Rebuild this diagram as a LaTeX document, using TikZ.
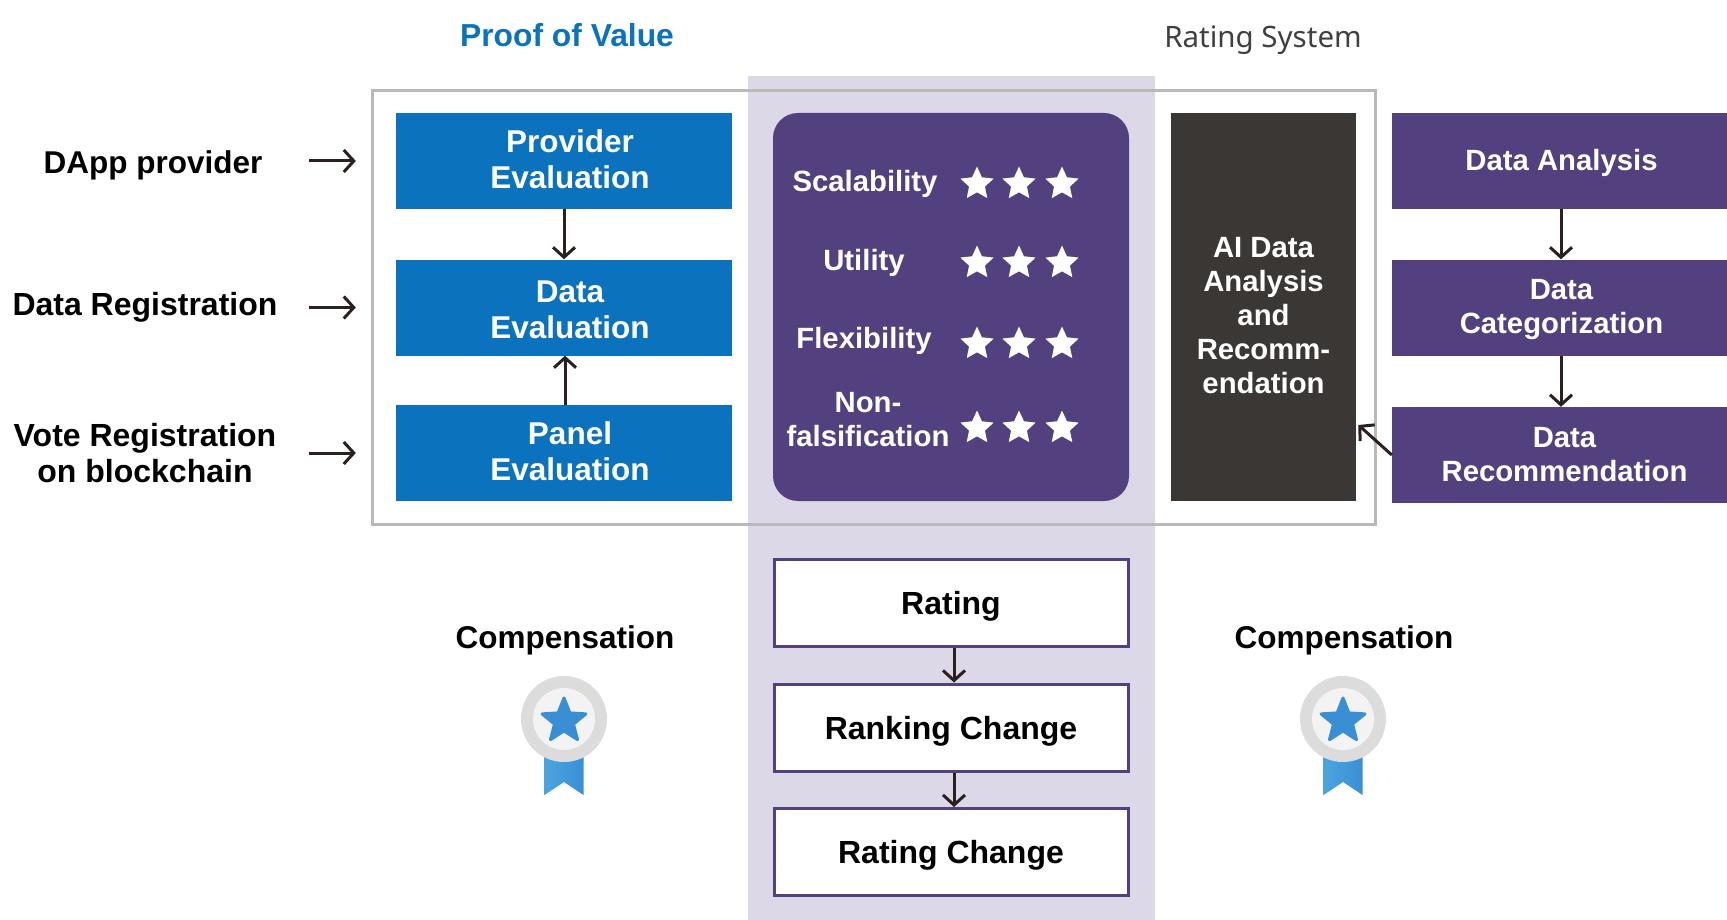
\documentclass[tikz,border=0pt]{standalone}
\usepackage{fontspec}
\setmainfont{Liberation Sans}
\newfontfamily\ratingfont{Noto Sans}
\usetikzlibrary{arrows.meta,shapes.geometric}
\definecolor{bandc}{HTML}{DCD8E7}
\definecolor{framec}{HTML}{B9B9B9}
\definecolor{blueb}{HTML}{0B72BD}
\definecolor{purp}{HTML}{52407F}
\definecolor{darkb}{HTML}{3B3735}
\definecolor{arrc}{HTML}{2A2020}
\definecolor{ribl}{HTML}{4AA5DF}
\definecolor{ribr}{HTML}{3A8FD4}
\newcommand{\sft}{\hspace*{12pt}}
\newcommand{\lowstrut}{\rule[-4.4pt]{0pt}{4.4pt}}
\newcommand{\medalicon}[3]{%
  \shade[left color=ribl,right color=ribr] (#1-19.5,#2+30) -- (#1+19.5,#2+30) -- (#1+19.5,#2+76) -- (#1,#2+63) -- (#1-19.5,#2+76) -- cycle;
  \fill[medalring] (#1,#2) circle[radius=43];
  \fill[medalin] (#1,#2) circle[radius=31];
  \node[medalstar] (#3) at (#1,#2+2) {};
}
\tikzset{
  x=1pt,y=-1pt,
  medalring/.style={fill={rgb,255:red,220;green,220;blue,220}},
  medalin/.style={fill={rgb,255:red,243;green,243;blue,243}},
  medalstar/.style={star,star points=5,star point ratio=2.3,minimum size=46pt,inner sep=0pt,fill=ribr,draw=ribr,line width=3pt,line join=round},
  txt/.style={font=\bfseries\fontsize{29.3}{34}\selectfont,align=center,inner sep=0pt},
  capline/.style={text height=#1,text depth=0pt},
  box/.style={txt,text=white,minimum height=96pt},
  bluebox/.style={box,fill=blueb,minimum width=336pt,font=\bfseries\fontsize{31.5}{36.4}\selectfont},
  rightbox/.style={box,fill=purp,minimum width=335pt},
  whitebox/.style={txt,capline=23pt,draw=purp,fill=white,line width=3pt,text=black,minimum width=354pt,minimum height=87pt,font=\bfseries\fontsize{32}{36}\selectfont},
  sidelabel/.style={txt,text=black,font=\bfseries\fontsize{32}{36}\selectfont},
  crit/.style={txt,text=white},
  critline/.style={crit,capline=21.4pt},
  complabel/.style={sidelabel,capline=23pt,font=\bfseries\fontsize{31.5}{36}\selectfont},
  ratestar/.style={star,star points=5,star point ratio=2.1,minimum size=35pt,inner sep=0pt,fill=white},
  arr/.style={-{Straight Barb[length=10pt,width=22pt,line width=3pt]},draw=arrc,line width=3pt},
}
\begin{document}
\begin{tikzpicture}
\useasboundingbox (0,0) rectangle (1727,920);
% band and frame
\fill[bandc] (748,76) rectangle (1155,920);
\draw[framec,line width=3pt] (372,91) rectangle (1375,524);
% titles
\node[txt,text=blueb,font=\bfseries\fontsize{31.8}{36}\selectfont] (tpv) at (567,35) {Proof of Value};
\node[txt,text=black!75,font=\ratingfont\fontsize{29.5}{32}\selectfont] (trs) at (1263,40) {Rating System};
% side labels
\node[complabel] (l1) at (153,162) {DApp provider};
\node[sidelabel,capline=23pt] (l2) at (145,304) {Data Registration};
\node[sidelabel] (l3) at (145,453.5) {Vote Registration\\on blockchain};
% blue boxes
\node[bluebox] (pe) at (564,161) {\sft Provider\\\sft Evaluation\lowstrut};
\node[bluebox] (de) at (564,307.5) {\rule{0pt}{26pt}\sft Data\\\sft Evaluation};
\node[bluebox] (pa) at (564,453) {\sft Panel\\\sft Evaluation\lowstrut};
% criteria panel
\node[fill=purp,rounded corners=25pt,minimum width=356pt,minimum height=388pt,inner sep=0pt] (crit) at (951,307) {};
\node[critline] (c1) at (865,181) {Scalability};
\node[critline] (c2) at (864,260) {Utility};
\node[critline] (c3) at (864,338) {Flexibility};
\node[crit] (c4) at (868,419.5) {Non-\\falsification};
\foreach \yy/\n in {184/a,263/b,344/c,428/d}
  \foreach \xx/\m in {977/1,1019/2,1062/3}
    \node[ratestar] (s\n\m) at (\xx,\yy) {};
% AI box
\node[txt,text=white,fill=darkb,minimum width=185pt,minimum height=388pt] (ai) at (1263.5,307) {\rule{0pt}{38pt}AI Data\\Analysis\\and\\Recomm-\\endation};
% right boxes
\node[rightbox,capline=19.8pt] (da) at (1559.5,161) {\hspace*{4pt}Data Analysis};
\node[rightbox] (dc) at (1559.5,307.5) {\rule{0pt}{24.4pt}\hspace*{4pt}Data\\\hspace*{4pt}Categorization};
\node[rightbox] (dr) at (1559.5,455) {\hspace*{10pt}Data\\\hspace*{10pt}Recommendation};
% white boxes
\node[whitebox] (ra) at (951,602.5) {Rating};
\node[whitebox] (rk) at (951,727.5) {Ranking Change};
\node[whitebox] (rc) at (951,852) {Rating Change};
% compensation
\node[complabel] (cl) at (565,637) {Compensation};
\node[complabel] (cr) at (1344,637) {Compensation};
\medalicon{564}{719}{ml}
\medalicon{1343}{719}{mr}
% left arrows
\coordinate (t1) at (309,161);
\coordinate (t2) at (309,307.5);
\coordinate (t3) at (309,453);
\draw[arr,shorten >=40pt] (t1) -- (pe);
\draw[arr,shorten >=40pt] (t2) -- (de);
\draw[arr,shorten >=40pt] (t3) -- (pa);
% vertical arrows
\draw[arr] (pe) -- (de);
\draw[arr] ([xshift=1pt]pa.north) -- ([xshift=1pt]de.south);
\draw[arr] ([xshift=1.5pt]da.south) -- ([xshift=1.5pt]dc.north);
\draw[arr] ([xshift=1.5pt]dc.south) -- ([xshift=1.5pt]dr.north);
\draw[arr,shorten >=3pt] (dr.west) -- ([yshift=-116pt]ai.east);
\draw[arr] ([xshift=3pt]ra.south) -- ([xshift=3pt]rk.north);
\draw[arr] ([xshift=3pt]rk.south) -- ([xshift=3pt]rc.north);
\end{tikzpicture}
\end{document}
